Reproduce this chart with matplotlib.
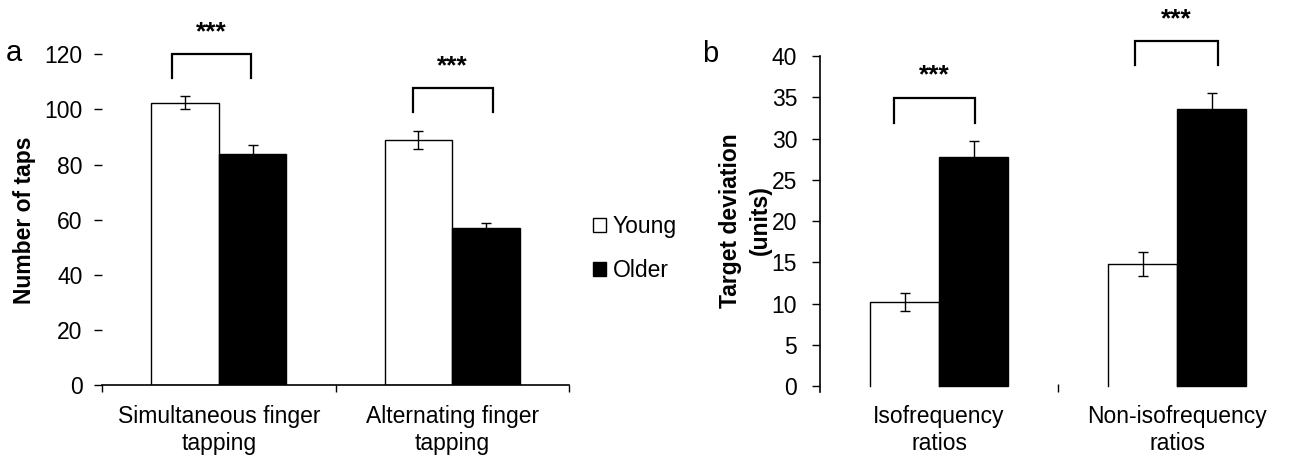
import matplotlib
matplotlib.use("Agg")
import matplotlib.pyplot as plt
import numpy as np

plt.rcParams['font.family'] = ['Liberation Sans', 'DejaVu Sans']

# panel a: finger tapping
tap_labels = ["Simultaneous finger\ntapping", "Alternating finger\ntapping"]
tap_young = [102.5, 88.9]
tap_young_err = [2.4, 3.3]
tap_older = [84.0, 56.9]
tap_older_err = [3.0, 2.0]

# panel b: bimanual ratios
dev_labels = ["Isofrequency\nratios", "Non-isofrequency\nratios"]
dev_young = [10.2, 14.8]
dev_young_err = [1.1, 1.5]
dev_older = [27.8, 33.6]
dev_older_err = [1.9, 1.9]

# significance brackets: (left offset, right offset, top, leg length)
tap_sig = [(-0.20, 0.14, 120.0, 8.7), (-0.17, 0.175, 107.7, 8.5)]
dev_sig = [(-0.19, 0.15, 34.9, 3.0), (-0.175, 0.17, 41.8, 2.9)]

W = 0.29
FS = 16.5

fig = plt.figure(figsize=(12.93, 4.55), dpi=100)
axa = fig.add_axes([0.07889, 0.15275, 0.36118, 0.72791])
axb = fig.add_axes([0.6342, 0.1380, 0.3658, 0.7389])


def brackets(ax, sig):
    for i, (l, r, top, leg) in enumerate(sig):
        ax.plot([i + l, i + l, i + r, i + r], [top - leg, top, top, top - leg],
                color='black', lw=1.6, clip_on=False, solid_joinstyle='miter')
        ax.annotate('***', xy=(i + (l + r) / 2, top), xytext=(0, 11),
                    textcoords='offset points', ha='center', va='baseline',
                    fontsize=19, fontweight='bold', annotation_clip=False)


# ---- panel a ----
x = np.arange(len(tap_labels))
ya = axa.bar(x - W / 2, tap_young, W, color='white', edgecolor='black', lw=1.0, label='Young')
oa = axa.bar(x + W / 2, tap_older, W, color='black', edgecolor='black', lw=1.0, label='Older')
axa.errorbar(x - W / 2, tap_young, yerr=tap_young_err, fmt='none', ecolor='black',
             elinewidth=1, capsize=3.5, capthick=1, zorder=3)
axa.errorbar(x + W / 2, tap_older, yerr=tap_older_err, fmt='none', ecolor='black',
             elinewidth=1, capsize=3.5, capthick=1, zorder=3)
brackets(axa, tap_sig)

axa.set_xlim(-0.5, 1.5)
axa.set_ylim(0, 120)
axa.set_yticks(range(0, 121, 20))
for s in ['left', 'top', 'right']:
    axa.spines[s].set_visible(False)
axa.spines['bottom'].set_linewidth(1.2)
axa.tick_params(axis='y', length=6, width=1, pad=8, labelsize=FS)
axa.set_xticks(x)
axa.set_xticklabels(tap_labels, fontsize=FS)
axa.tick_params(axis='x', which='major', length=0, pad=14)
axa.set_xticks([-0.5, 0.5, 1.5], minor=True)
axa.tick_params(axis='x', which='minor', length=5, width=1)
axa.text(-0.167, 0.5, "Number of taps", transform=axa.transAxes, rotation=90,
         ha='center', va='center', fontsize=FS, fontweight='bold')

# ---- panel b ----
yb = axb.bar(x - W / 2, dev_young, W, color='white', edgecolor='none')
axb.bar(x + W / 2, dev_older, W, color='black', edgecolor='black', lw=1.0)
# open bars drawn without a bottom edge
for p in yb.patches:
    x0, w, h = p.get_x(), p.get_width(), p.get_height()
    axb.plot([x0, x0, x0 + w, x0 + w], [0, h, h, 0], color='black', lw=1.0)
axb.errorbar(x - W / 2, dev_young, yerr=dev_young_err, fmt='none', ecolor='black',
             elinewidth=1, capsize=3.5, capthick=1, zorder=3)
axb.errorbar(x + W / 2, dev_older, yerr=dev_older_err, fmt='none', ecolor='black',
             elinewidth=1, capsize=3.5, capthick=1, zorder=3)
brackets(axb, dev_sig)

axb.set_xlim(-0.5, 1.487)
axb.set_ylim(-0.75, 40)
axb.set_yticks(range(0, 41, 5))
for s in ['bottom', 'top', 'right']:
    axb.spines[s].set_visible(False)
axb.spines['left'].set_linewidth(1.2)
axb.tick_params(axis='y', length=5.5, width=1, pad=11, labelsize=FS)
axb.set_xticks(x)
axb.set_xticklabels(dev_labels, fontsize=FS)
axb.tick_params(axis='x', which='major', length=0, pad=9.5)
axb.set_xticks([0.5], minor=True)
axb.tick_params(axis='x', which='minor', length=6, width=1, direction='in')
axb.text(-0.157, 0.511, "Target deviation\n(units)", transform=axb.transAxes, rotation=90,
         ha='center', va='center', fontsize=FS, fontweight='bold', multialignment='center',
         linespacing=1.4)

# panel letters and legend
fig.text(0.0108, 0.866, 'a', fontsize=21, ha='center', va='baseline')
fig.text(0.5495, 0.8637, 'b', fontsize=21, ha='center', va='baseline')
fig.legend(handles=[ya, oa], loc='center left', bbox_to_anchor=(0.4501, 0.4538),
           frameon=False, fontsize=FS, borderpad=0, handlelength=0.55, handleheight=0.55,
           handletextpad=0.3, labelspacing=0.9)

fig.savefig("out.png", dpi=100)
